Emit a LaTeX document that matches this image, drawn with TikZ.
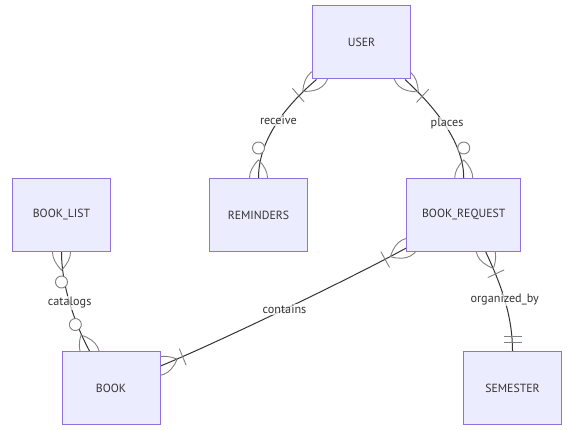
\documentclass[tikz,border=0pt]{standalone}
\usepackage{fontspec}
\setmainfont{PT Sans}
\usetikzlibrary{backgrounds}
\definecolor{entfill}{HTML}{ECECFF}
\definecolor{entline}{HTML}{9370DB}
\definecolor{relcol}{HTML}{333333}
\definecolor{crowcol}{HTML}{808080}
\tikzset{
	entity/.style={draw=entline, fill=entfill, line width=1pt, minimum width=98pt, minimum height=73pt, inner sep=0pt, text=relcol, font=\fontsize{11.8}{14}\selectfont},
	relline/.style={draw=relcol, line width=1pt},
	crowline/.style={draw=crowcol, line width=0.9pt},
	rellabel/.style={fill=white, fill opacity=0.7, text opacity=1, text=relcol, inner sep=1pt, font=\fontsize{12.2}{14}\selectfont},
	onemany/.pic={
		\draw[crowline] (-18,0) .. controls (-6,12) and (6,12) .. (18,0) .. controls (6,-12) and (-6,-12) .. cycle;
		\draw[crowline] (24,-9) -- (24,9);
	},
	zeromany/.pic={
		\draw[crowline] (-18,0) .. controls (-6,12) and (6,12) .. (18,0) .. controls (6,-12) and (-6,-12) .. cycle;
		\draw[crowline, fill=white] (30,0) circle (6);
	},
	onlyone/.pic={
		\draw[crowline] (9,-9) -- (9,9) (15,-9) -- (15,9);
	},
}
\begin{document}
\begin{tikzpicture}[x=1pt, y=1pt]
	\useasboundingbox (0,0) rectangle (567,429);

	% entities
	\node[entity] (user) at (361.5,386.5) {USER};
	\node[entity] (booklist) at (61.5,214) {BOOK\_LIST};
	\node[entity] (reminders) at (258.5,214) {REMINDERS};
	\node[entity, minimum width=114pt] (bookreq) at (463.75,214) {BOOK\_REQUEST};
	\node[entity] (book) at (111,41) {BOOK};
	\node[entity] (semester) at (512.5,41) {SEMESTER};

	% line ends on the boxes
	\coordinate (u1) at ([xshift=4.5pt]user.south west);
	\coordinate (u2) at ([xshift=-6pt]user.south east);
	\coordinate (bk1) at ([xshift=-21.5pt]book.north);
	\coordinate (bk2) at ([yshift=22pt]book.east);
	\coordinate (br1) at ([yshift=-33pt]bookreq.west);
	\coordinate (br2) at ([xshift=22pt]bookreq.south);

	% relationships
	\begin{scope}[on background layer]
		\draw[relline] (u1) to[out=220.5, in=90, out distance=41pt, in distance=38pt]
			node[rellabel, pos=0.46]{receive} (reminders.north);
		\pic[rotate=220.5] at (u1) {onemany};
		\pic[rotate=90] at (reminders.north) {zeromany};

		\draw[relline] (u2) to[out=-42.6, in=90, out distance=35pt, in distance=38pt]
			node[rellabel, pos=0.5, xshift=3pt]{places} (bookreq.north);
		\pic[rotate=-42.6] at (u2) {onemany};
		\pic[rotate=90] at (bookreq.north) {zeromany};

		\draw[relline] (booklist.south) to[out=-90, in=118.1, out distance=33pt, in distance=33pt]
			node[rellabel]{catalogs} (bk1);
		\pic[rotate=-90] at (booklist.south) {zeromany};
		\pic[rotate=118.1] at (bk1) {zeromany};

		\draw[relline] (bk2) to[out=22.2, in=208.8, out distance=60pt, in distance=60pt]
			node[rellabel]{contains} (br1);
		\pic[rotate=22.2] at (bk2) {onemany};
		\pic[rotate=208.8] at (br1) {onemany};

		\draw[relline] (br2) to[out=-64.8, in=90, out distance=35pt, in distance=36pt]
			node[rellabel]{organized\_by} (semester.north);
		\pic[rotate=-64.8] at (br2) {onemany};
		\pic[rotate=90] at (semester.north) {onlyone};
	\end{scope}
\end{tikzpicture}
\end{document}
